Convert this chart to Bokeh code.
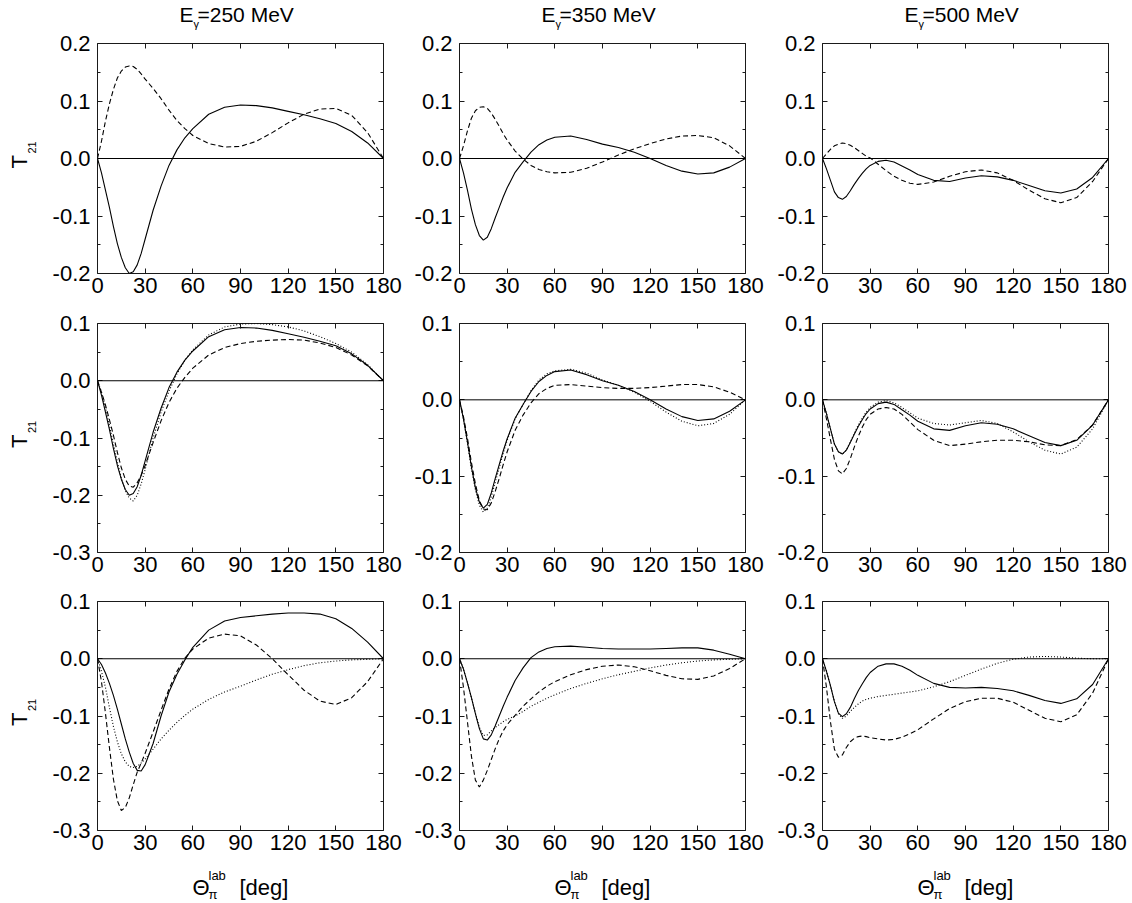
from bokeh.plotting import figure
from bokeh.models import (Range1d, FixedTicker, PrintfTickFormatter, LinearAxis, Span,
                          Label, CustomJSTickFormatter)
from bokeh.layouts import gridplot
from bokeh.embed import file_html
from bokeh.resources import INLINE

# ---------------- data ----------------
theta = [0, 2.5, 5, 7.5, 10, 12.5, 15, 17.5, 20, 22.5, 25, 27.5, 30,
         35, 40, 45, 50, 55, 60,
         70, 80, 90, 100, 110, 120, 130, 140, 150, 160, 170, 180]

energies = ["250", "350", "500"]

# full calculation (solid), same in rows 1 and 2
full_250 = [0, -0.025, -0.055, -0.085, -0.118, -0.148, -0.172, -0.19, -0.2, -0.197, -0.185, -0.165, -0.14,
            -0.09, -0.048, -0.012, 0.015, 0.036, 0.052,
            0.077, 0.089, 0.093, 0.092, 0.088, 0.082, 0.076, 0.069, 0.061, 0.047, 0.027, 0]
full_350 = [0, -0.025, -0.055, -0.088, -0.115, -0.134, -0.142, -0.137, -0.122, -0.103, -0.085, -0.067, -0.051,
            -0.024, -0.006, 0.011, 0.024, 0.032, 0.037,
            0.039, 0.033, 0.025, 0.019, 0.011, 0, -0.012, -0.022, -0.027, -0.025, -0.015, 0]
full_500 = [0, -0.018, -0.038, -0.058, -0.068, -0.071, -0.066, -0.056, -0.045, -0.035, -0.026, -0.018, -0.012,
            -0.005, -0.003, -0.006, -0.013, -0.02, -0.028,
            -0.038, -0.04, -0.034, -0.03, -0.032, -0.038, -0.047, -0.056, -0.06, -0.053, -0.033, 0]

# row 1 dashed
dash0_250 = [0, 0.03, 0.065, 0.095, 0.12, 0.14, 0.152, 0.159, 0.161, 0.16, 0.155, 0.147, 0.138,
             0.122, 0.104, 0.084, 0.066, 0.052, 0.04,
             0.026, 0.02, 0.021, 0.03, 0.045, 0.062, 0.077, 0.086, 0.087, 0.075, 0.045, 0]
dash0_350 = [0, 0.022, 0.048, 0.07, 0.083, 0.089, 0.09, 0.087, 0.079, 0.068, 0.056, 0.043, 0.032,
             0.013, -0.001, -0.012, -0.019, -0.023, -0.025,
             -0.024, -0.017, -0.006, 0.006, 0.017, 0.026, 0.034, 0.039, 0.04, 0.036, 0.022, 0]
dash0_500 = [0, 0.008, 0.016, 0.022, 0.025, 0.027, 0.026, 0.023, 0.019, 0.014, 0.009, 0.004, 0.001,
             -0.01, -0.021, -0.031, -0.038, -0.043, -0.045,
             -0.041, -0.031, -0.023, -0.02, -0.025, -0.038, -0.055, -0.07, -0.077, -0.068, -0.04, 0]

# row 2 dashed / dotted
dash1_250 = [0, -0.02, -0.042, -0.068, -0.095, -0.125, -0.152, -0.172, -0.184, -0.186, -0.178, -0.165, -0.148,
             -0.108, -0.07, -0.038, -0.013, 0.006, 0.022,
             0.045, 0.058, 0.065, 0.069, 0.071, 0.072, 0.071, 0.066, 0.058, 0.045, 0.026, 0]
dot1_250 = [0, -0.02, -0.047, -0.078, -0.11, -0.142, -0.17, -0.192, -0.205, -0.21, -0.2, -0.18, -0.155,
            -0.1, -0.055, -0.018, 0.012, 0.036, 0.054,
            0.08, 0.094, 0.099, 0.1, 0.098, 0.094, 0.087, 0.077, 0.065, 0.05, 0.028, 0]
dash1_350 = [0, -0.022, -0.05, -0.082, -0.11, -0.132, -0.143, -0.144, -0.135, -0.12, -0.103, -0.085, -0.068,
             -0.04, -0.02, -0.004, 0.008, 0.015, 0.019,
             0.02, 0.018, 0.016, 0.015, 0.015, 0.016, 0.018, 0.02, 0.02, 0.017, 0.01, 0]
dot1_350 = [0, -0.026, -0.057, -0.09, -0.118, -0.138, -0.147, -0.142, -0.127, -0.108, -0.089, -0.07, -0.053,
            -0.025, -0.006, 0.012, 0.026, 0.034, 0.038,
            0.04, 0.035, 0.026, 0.019, 0.01, -0.002, -0.016, -0.028, -0.034, -0.031, -0.019, 0]
dash1_500 = [0, -0.025, -0.052, -0.078, -0.093, -0.097, -0.09, -0.077, -0.062, -0.048, -0.036, -0.026, -0.019,
             -0.012, -0.01, -0.012, -0.019, -0.029, -0.039,
             -0.053, -0.06, -0.058, -0.055, -0.053, -0.053, -0.055, -0.059, -0.06, -0.052, -0.033, 0]
dot1_500 = [0, -0.018, -0.038, -0.058, -0.068, -0.071, -0.066, -0.055, -0.044, -0.033, -0.024, -0.016, -0.01,
            -0.003, -0.001, -0.004, -0.01, -0.017, -0.024,
            -0.031, -0.033, -0.03, -0.027, -0.031, -0.042, -0.055, -0.066, -0.071, -0.062, -0.038, 0]

# row 3 solid / dashed / dotted
sol2_250 = [0, -0.01, -0.025, -0.043, -0.064, -0.088, -0.114, -0.14, -0.163, -0.183, -0.195, -0.196, -0.185,
            -0.148, -0.1, -0.058, -0.027, -0.002, 0.02,
            0.05, 0.066, 0.072, 0.075, 0.078, 0.08, 0.08, 0.078, 0.07, 0.053, 0.029, 0]
dash2_250 = [0, -0.04, -0.095, -0.155, -0.21, -0.248, -0.265, -0.26, -0.243, -0.22, -0.198, -0.182, -0.165,
             -0.128, -0.09, -0.053, -0.022, 0.001, 0.017,
             0.036, 0.043, 0.04, 0.024, 0, -0.028, -0.055, -0.074, -0.08, -0.068, -0.04, 0]
dot2_250 = [0, -0.022, -0.05, -0.085, -0.118, -0.145, -0.166, -0.18, -0.188, -0.19, -0.188, -0.182, -0.175,
            -0.158, -0.14, -0.125, -0.111, -0.099, -0.088,
            -0.071, -0.058, -0.048, -0.037, -0.027, -0.019, -0.012, -0.007, -0.004, -0.002, -0.001, 0]
sol2_350 = [0, -0.018, -0.042, -0.068, -0.096, -0.122, -0.14, -0.142, -0.133, -0.117, -0.1, -0.083, -0.067,
            -0.038, -0.016, 0.002, 0.012, 0.018, 0.021,
            0.022, 0.02, 0.018, 0.017, 0.017, 0.017, 0.018, 0.019, 0.019, 0.015, 0.008, 0]
dash2_350 = [0, -0.05, -0.11, -0.17, -0.212, -0.224, -0.212, -0.195, -0.176, -0.157, -0.14, -0.126, -0.115,
             -0.099, -0.083, -0.07, -0.058, -0.048, -0.04,
             -0.028, -0.019, -0.013, -0.011, -0.014, -0.021, -0.029, -0.035, -0.036, -0.03, -0.017, 0]
dot2_350 = [0, -0.018, -0.042, -0.068, -0.095, -0.12, -0.134, -0.133, -0.126, -0.12, -0.115, -0.11, -0.106,
            -0.1, -0.092, -0.083, -0.076, -0.069, -0.063,
            -0.052, -0.043, -0.035, -0.028, -0.022, -0.016, -0.011, -0.007, -0.004, -0.002, -0.001, 0]
sol2_500 = [0, -0.022, -0.047, -0.075, -0.095, -0.101, -0.096, -0.085, -0.07, -0.056, -0.044, -0.033, -0.024,
            -0.013, -0.009, -0.009, -0.013, -0.02, -0.029,
            -0.043, -0.05, -0.051, -0.05, -0.052, -0.056, -0.064, -0.073, -0.078, -0.07, -0.045, 0]
dash2_500 = [0, -0.05, -0.11, -0.158, -0.172, -0.168, -0.155, -0.145, -0.139, -0.136, -0.135, -0.136, -0.138,
             -0.14, -0.142, -0.141, -0.137, -0.131, -0.124,
             -0.105, -0.087, -0.075, -0.069, -0.069, -0.076, -0.09, -0.104, -0.11, -0.098, -0.06, 0]
dot2_500 = [0, -0.022, -0.047, -0.075, -0.096, -0.104, -0.1, -0.092, -0.085, -0.079, -0.074, -0.071, -0.069,
            -0.066, -0.064, -0.062, -0.06, -0.058, -0.056,
            -0.049, -0.04, -0.029, -0.018, -0.008, -0.001, 0.003, 0.004, 0.003, 0.001, 0, 0]

x_ticks = [0, 30, 60, 90, 120, 150, 180]
y_major = [-0.3, -0.2, -0.1, 0.0, 0.1, 0.2]
y_minor = [-0.25, -0.15, -0.05, 0.05, 0.15]

# panels: (y_min, y_max, [(values, style), ...])
panels = [
    [(-0.2, 0.2, [(full_250, "solid"), (dash0_250, "dash")]),
     (-0.2, 0.2, [(full_350, "solid"), (dash0_350, "dash")]),
     (-0.2, 0.2, [(full_500, "solid"), (dash0_500, "dash")])],
    [(-0.3, 0.1, [(full_250, "solid"), (dash1_250, "dash"), (dot1_250, "dot")]),
     (-0.2, 0.1, [(full_350, "solid"), (dash1_350, "dash"), (dot1_350, "dot")]),
     (-0.2, 0.1, [(full_500, "solid"), (dash1_500, "dash"), (dot1_500, "dot")])],
    [(-0.3, 0.1, [(sol2_250, "solid"), (dash2_250, "dash"), (dot2_250, "dot")]),
     (-0.3, 0.1, [(sol2_350, "solid"), (dash2_350, "dash"), (dot2_350, "dot")]),
     (-0.3, 0.1, [(sol2_500, "solid"), (dash2_500, "dash"), (dot2_500, "dot")])],
]

# ---------------- styling / layout ----------------
FONT = "Liberation Sans"
TICK_FS = "22px"
INK = "#1a1a1a"
DASHES = {"solid": "solid", "dash": "5 3", "dot": "1 2"}
BASELINE_FIX = 0.36       # measured shift of Bokeh's "alphabetic" anchor, in em

LABEL_COL_W = 45          # column holding the rotated T21 labels
TITLE_ROW_H = 30          # row holding the energy titles
XLABEL_ROW_H = 43         # row holding the x-axis titles
FRAME_W = 286
col_left = [52, 57, 58]
col_right = [19, 19, 24]
row_top = [13, 14, 13]
row_bottom = [36, 36, 30]
frame_h = [230, 229, 229]
col_w = [col_left[c] + FRAME_W + col_right[c] for c in range(3)]
row_h = [row_top[r] + frame_h[r] + row_bottom[r] for r in range(3)]


def blank_axis(ticker, minor):
    return LinearAxis(ticker=ticker, formatter=CustomJSTickFormatter(code="return ''"),
                      major_label_text_font_size="1px", major_label_standoff=0,
                      major_tick_in=5, major_tick_out=0,
                      minor_tick_in=3 if minor else 0, minor_tick_out=0,
                      axis_line_color=None, major_tick_line_color=INK, minor_tick_line_color=INK)


def text_fig(w, h):
    # a plain canvas whose frame is the whole figure: data units == pixels
    f = figure(width=w, height=h, x_range=Range1d(0, w), y_range=Range1d(0, h),
               min_border=0, min_border_left=0, min_border_right=0,
               min_border_top=0, min_border_bottom=0, title=None,
               x_axis_type=None, y_axis_type=None, frame_align=False,
               output_backend="svg", toolbar_location=None, tools="")
    f.outline_line_color = None
    f.background_fill_color = "white"
    f.border_fill_color = "white"
    return f


def put(f, h, x, y_from_top, text, size_px, align="left", angle=0):
    fix = BASELINE_FIX * size_px
    if angle == 90:
        x -= fix
    else:
        y_from_top -= fix
    f.add_layout(Label(x=x, y=h - y_from_top, text=text, text_font=FONT,
                       text_font_size="%dpx" % size_px, text_align=align,
                       text_baseline="alphabetic", text_color="black",
                       angle=angle, angle_units="deg"))


grid_rows = []

# title row
title_row = [None]
for c in range(3):
    f = text_fig(col_w[c], TITLE_ROW_H)
    cx = col_left[c] + FRAME_W / 2
    put(f, TITLE_ROW_H, cx - 47, 22, "E", 21, align="right")
    put(f, TITLE_ROW_H, cx - 47, 27.5, "\u03b3", 11)
    put(f, TITLE_ROW_H, cx - 43, 22, "=" + energies[c] + " MeV", 21)
    title_row.append(f)
grid_rows.append(title_row)

for r in range(3):
    # rotated y-axis title T_21
    lf = text_fig(LABEL_COL_W, row_h[r])
    cy = row_top[r] + frame_h[r] / 2
    put(lf, row_h[r], 27, cy + 10, "T", 22, angle=90)
    put(lf, row_h[r], 35, cy - 5, "21", 11, angle=90)
    row = [lf]
    for c in range(3):
        ymin, ymax, series = panels[r][c]
        p = figure(x_range=Range1d(0, 180), y_range=Range1d(ymin, ymax),
                   frame_width=FRAME_W, frame_height=frame_h[r], title=None,
                   min_border_left=col_left[c], min_border_right=col_right[c],
                   min_border_top=row_top[r], min_border_bottom=row_bottom[r],
                   output_backend="svg", toolbar_location=None, tools="")
        p.grid.visible = False
        p.outline_line_color = INK
        p.outline_line_width = 1
        p.background_fill_color = "white"
        p.border_fill_color = "white"

        xa = p.xaxis[0]
        xa.ticker = FixedTicker(ticks=x_ticks)
        xa.formatter = PrintfTickFormatter(format="%d")
        xa.major_label_text_font = FONT
        xa.major_label_text_font_size = TICK_FS
        xa.major_label_text_color = "black"
        xa.major_label_standoff = 4
        xa.major_tick_in = 5
        xa.major_tick_out = 0
        xa.minor_tick_in = 0
        xa.minor_tick_out = 0
        xa.axis_line_color = None
        xa.major_tick_line_color = INK

        ya = p.yaxis[0]
        ya.ticker = FixedTicker(ticks=y_major, minor_ticks=y_minor)
        ya.formatter = PrintfTickFormatter(format="%.1f")
        ya.major_label_text_font = FONT
        ya.major_label_text_font_size = TICK_FS
        ya.major_label_text_color = "black"
        ya.major_label_standoff = 7
        ya.major_tick_in = 5
        ya.major_tick_out = 0
        ya.minor_tick_in = 3
        ya.minor_tick_out = 0
        ya.axis_line_color = None
        ya.major_tick_line_color = INK
        ya.minor_tick_line_color = INK

        p.add_layout(blank_axis(FixedTicker(ticks=x_ticks), False), "above")
        p.add_layout(blank_axis(FixedTicker(ticks=y_major, minor_ticks=y_minor), True), "right")

        p.add_layout(Span(location=0, dimension="width", line_color="black", line_width=1))

        for vals, style in series:
            p.line(theta, vals, line_color="black", line_width=1.1, line_dash=DASHES[style])
        row.append(p)
    grid_rows.append(row)

# x-axis title row
xrow = [None]
for c in range(3):
    f = text_fig(col_w[c], XLABEL_ROW_H)
    cx = col_left[c] + FRAME_W / 2
    put(f, XLABEL_ROW_H, cx - 48, 35, "\u0398", 22)
    put(f, XLABEL_ROW_H, cx - 32, 20, "lab", 13)
    put(f, XLABEL_ROW_H, cx - 32, 39, "\u03c0", 13)
    put(f, XLABEL_ROW_H, cx - 1, 35, "[deg]", 22)
    xrow.append(f)
grid_rows.append(xrow)

grid = gridplot(grid_rows, toolbar_location=None)
open("out.html", "w").write(file_html(grid, INLINE))
